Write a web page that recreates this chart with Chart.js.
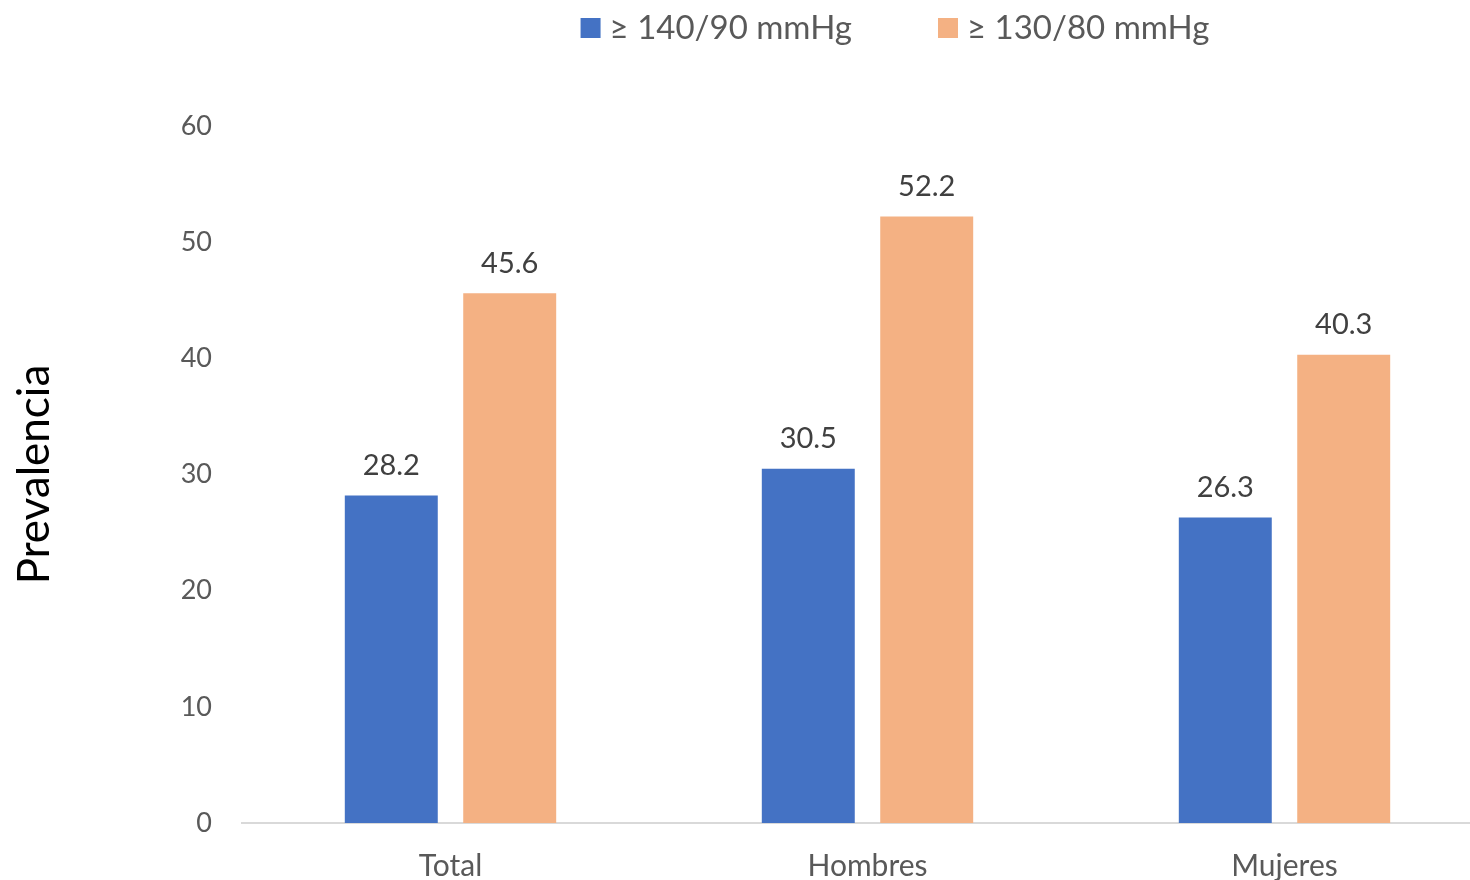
<!DOCTYPE html>
<html>
<head>
<meta charset="utf-8">
<script src="https://cdn.jsdelivr.net/npm/chart.js@4/dist/chart.umd.min.js"></script>
<style>
  html, body { margin: 0; padding: 0; background: #fff; overflow: hidden; }
  #wrap { width: 1493px; height: 909px; }
</style>
</head>
<body>
<div id="wrap"><canvas id="chart"></canvas></div>
<script>
const categories = ["Total", "Hombres", "Mujeres"];
const seriesNames = ["≥ 140/90 mmHg", "≥ 130/80 mmHg"];
const values140 = [28.2, 30.5, 26.3];
const values130 = [45.6, 52.2, 40.3];
const colors = ["#4472C4", "#F4B183"];
const yTicks = [0, 10, 20, 30, 40, 50, 60];

const FONT = "Lato, 'Open Sans', 'Noto Sans', sans-serif";
const TEXT = "#595959";

// etiquetas de valor encima de cada barra
const valueLabels = {
  id: "valueLabels",
  afterDatasetsDraw(chart) {
    const ctx = chart.ctx;
    ctx.save();
    ctx.font = "29px " + FONT;
    ctx.fillStyle = "#404040";
    ctx.textAlign = "center";
    ctx.textBaseline = "middle";
    chart.data.datasets.forEach((ds, i) => {
      chart.getDatasetMeta(i).data.forEach((bar, j) => {
        ctx.fillText(ds.data[j].toFixed(1), bar.x, bar.y - 30);
      });
    });
    ctx.restore();
  }
};

// leyenda arriba, centrada como en el original
const topLegend = {
  id: "topLegend",
  afterDraw(chart) {
    const ctx = chart.ctx;
    ctx.save();
    ctx.font = "33px " + FONT;
    ctx.textBaseline = "middle";
    const box = 20, gap = 9, itemGap = 86;
    const widths = chart.data.datasets.map(ds => box + gap + ctx.measureText(ds.label).width);
    const total = widths.reduce((a, b) => a + b, 0) + itemGap * (widths.length - 1);
    let x = 895 - total / 2;
    const y = 28;
    chart.data.datasets.forEach((ds, i) => {
      ctx.fillStyle = ds.backgroundColor;
      ctx.fillRect(x, y - box / 2, box, box);
      ctx.fillStyle = TEXT;
      ctx.fillText(ds.label, x + box + gap, y);
      x += widths[i] + itemGap;
    });
    ctx.restore();
  }
};

new Chart(document.getElementById("chart"), {
  type: "bar",
  data: {
    labels: categories,
    datasets: [
      { label: seriesNames[0], data: values140, backgroundColor: colors[0] },
      { label: seriesNames[1], data: values130, backgroundColor: colors[1] }
    ]
  },
  options: {
    responsive: true,
    maintainAspectRatio: false,
    animation: false,
    categoryPercentage: 0.568,
    barPercentage: 0.785,
    layout: { padding: { top: 126, right: 0, bottom: 0, left: 0 } },
    plugins: {
      legend: { display: false },
      tooltip: { enabled: false }
    },
    scales: {
      x: {
        grid: { display: false, drawTicks: false },
        border: { display: true, color: "#D9D9D9", width: 2 },
        ticks: { color: TEXT, font: { family: FONT, size: 30 }, padding: 25 }
      },
      y: {
        min: 0,
        max: 60,
        afterBuildTicks(scale) { scale.ticks = yTicks.map(v => ({ value: v })); },
        afterFit(scale) { scale.width = 242; },
        grid: { display: false, drawTicks: false },
        border: { display: false },
        ticks: { color: TEXT, font: { family: FONT, size: 27 }, padding: 30 },
        title: {
          display: true,
          text: "Prevalencia",
          color: "#000",
          font: { family: FONT, size: 44 },
          padding: { top: 8, bottom: 0 }
        }
      }
    }
  },
  plugins: [valueLabels, topLegend]
});
</script>
</body>
</html>
